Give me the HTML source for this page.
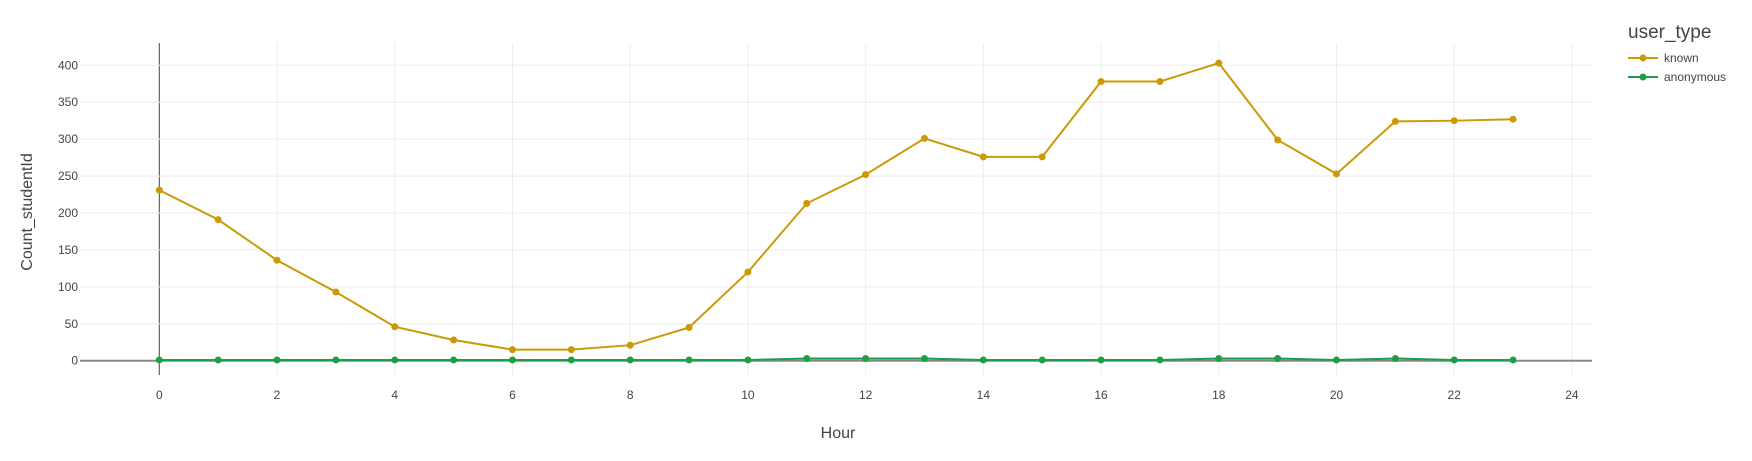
<!DOCTYPE html>
<html><head><meta charset="utf-8"><style>
body{margin:0;background:#fff;}
svg{display:block;font-family:"Liberation Sans",sans-serif;}
</style></head><body>
<svg id="chart" width="1752" height="461">
<g id="grid"></g>
<g id="axes"></g>
<g id="series"></g>
<text x="32" y="212" transform="rotate(-90 32 212)" text-anchor="middle" font-size="16" fill="#444">Count_studentId</text>
<text x="838" y="438" text-anchor="middle" font-size="16" fill="#444">Hour</text>
<g>
<text x="1628" y="38" font-size="19" fill="#444">user_type</text>
<g>
<line x1="1628" y1="58" x2="1658" y2="58" stroke="#cc9a06" stroke-width="2"/><circle cx="1643" cy="58" r="3.5" fill="#cc9a06"/>
<text x="1664" y="62" font-size="12" fill="#444">known</text></g>
<g>
<line x1="1628" y1="77" x2="1658" y2="77" stroke="#1f9e48" stroke-width="2"/><circle cx="1643" cy="77" r="3.5" fill="#1f9e48"/>
<text x="1664" y="81" font-size="12" fill="#444">anonymous</text></g>
</g>
</svg>
<script>
const hours=[0,1,2,3,4,5,6,7,8,9,10,11,12,13,14,15,16,17,18,19,20,21,22,23];
const knownValues=[231,191,136,93,46,28,15,15,21,45,120,213,252,301,276,276,378,378,403,299,253,324,325,327];
const anonymousValues=[1,1,1,1,1,1,1,1,1,1,1,3,3,3,1,1,1,1,3,3,1,3,1,1];
const xTicks=[0,2,4,6,8,10,12,14,16,18,20,22,24];
const yTicks=[0,50,100,150,200,250,300,350,400];
const NS="http://www.w3.org/2000/svg";
const L=80,R=1592,T=43,B=375;
const X=v=>159.3+v*58.86;
const Y=v=>360.7-v*(295.4/400);
function mk(tag,attrs,parent){const e=document.createElementNS(NS,tag);for(const k in attrs)e.setAttribute(k,attrs[k]);parent.appendChild(e);return e;}
const grid=document.getElementById('grid'),axes=document.getElementById('axes'),series=document.getElementById('series');
xTicks.forEach(t=>{
 const ln=mk('line',{x1:X(t),x2:X(t),y1:T,y2:B,stroke:t===0?'#444':'#eee','stroke-width':1},grid);
 
 
 const tx=mk('text',{x:X(t),y:399,'text-anchor':'middle','font-size':12,fill:'#444'},axes);
 tx.textContent=t;
 
 
});
yTicks.forEach(t=>{
 const ln=mk('line',{x1:L,x2:R,y1:Y(t),y2:Y(t),stroke:t===0?'#888':'#eee','stroke-width':t===0?2:1},grid);
 
 
 const tx=mk('text',{x:78,y:Y(t)+4,'text-anchor':'end','font-size':12,fill:'#444'},axes);
 tx.textContent=t;
 
 
});
function draw(vals,color,name){
 const pl=mk('polyline',{points:hours.map((h,i)=>X(h)+','+Y(vals[i])).join(' '),fill:'none',stroke:color,'stroke-width':2},series);
 
 
 hours.forEach((h,i)=>{
  const c=mk('circle',{cx:X(h),cy:Y(vals[i]),r:3.5,fill:color},series);
  
  
 });
}
draw(knownValues,'#cc9a06','known');
draw(anonymousValues,'#1f9e48','anonymous');
</script>
</body></html>
